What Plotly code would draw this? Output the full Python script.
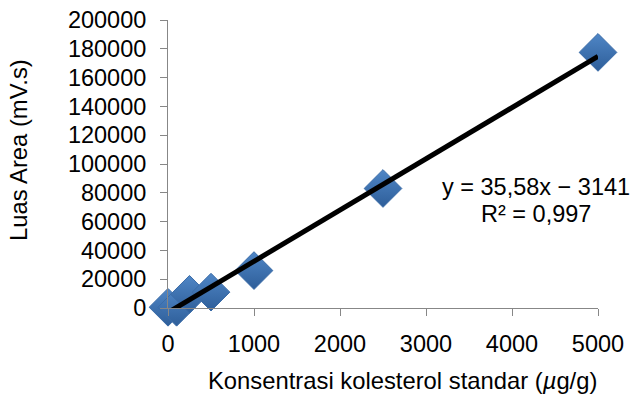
import plotly.graph_objects as go

x_vals = [0, 100, 250, 500, 1000, 2500, 5000]
y_vals = [500, 500, 9500, 11000, 26000, 83000, 177500]
slope = 35.58
intercept = -3141
x_ticks = [0, 1000, 2000, 3000, 4000, 5000]
y_ticks = [0, 20000, 40000, 60000, 80000, 100000, 120000, 140000, 160000, 180000, 200000]
eq_text = "y = 35,58x − 3141"
r2_text = "R² = 0,997"
x_title = "Konsentrasi kolesterol standar (<i>µ</i>g/g)"
y_title = "Luas Area (mV.s)"

fig = go.Figure()
fig.add_trace(go.Scatter(
    x=x_vals, y=y_vals, mode="markers",
    marker=dict(symbol="diamond", size=29, color="#4F86C6",
                line=dict(color="#3B6CA8", width=1),
                gradient=dict(type="vertical", color="#2E5E99")),
    showlegend=False, cliponaxis=False, hoverinfo="skip"))
lx = [0, 5000]
fig.add_trace(go.Scatter(
    x=lx, y=[slope * v + intercept for v in lx], mode="lines",
    line=dict(color="black", width=5), showlegend=False, cliponaxis=False,
    hoverinfo="skip"))

font = dict(family="Liberation Sans, Arial", size=23.5, color="black")
tfont = dict(family="Liberation Sans, Arial", size=23.8, color="black")
fig.update_layout(
    width=632, height=394,
    margin=dict(l=168, r=34, t=20, b=86),
    plot_bgcolor="white", paper_bgcolor="white",
    font=font,
    xaxis=dict(range=[0, 5000], tickvals=x_ticks, ticktext=[str(v) for v in x_ticks],
               ticks="outside", ticklen=7, automargin=False,
               tickcolor="#878787", showline=True, linecolor="#878787",
               showgrid=False, zeroline=False, ticklabelstandoff=8),
    yaxis=dict(range=[0, 200000], tickvals=y_ticks, ticktext=[str(v) for v in y_ticks],
               ticks="outside", ticklen=7, automargin=False,
               tickcolor="#878787", showline=True, linecolor="#878787",
               showgrid=False, zeroline=False, ticklabelstandoff=9),
    annotations=[
        dict(x=4279, y=84000, xref="x", yref="y", text=eq_text, showarrow=False,
             xanchor="center", yanchor="middle", font=font),
        dict(x=4279, y=65300, xref="x", yref="y", text=r2_text, showarrow=False,
             xanchor="center", yanchor="middle", font=font),
        dict(x=0.5465, y=-0.25, xref="paper", yref="paper", text=x_title,
             showarrow=False, xanchor="center", yanchor="middle", font=tfont),
        dict(x=-0.3465, y=0.549, xref="paper", yref="paper", text=y_title,
             showarrow=False, xanchor="center", yanchor="middle", textangle=-90,
             font=tfont),
    ],
)
fig.write_html("out.html", config={"displayModeBar": False},
               post_script="document.body.style.margin='0';")
